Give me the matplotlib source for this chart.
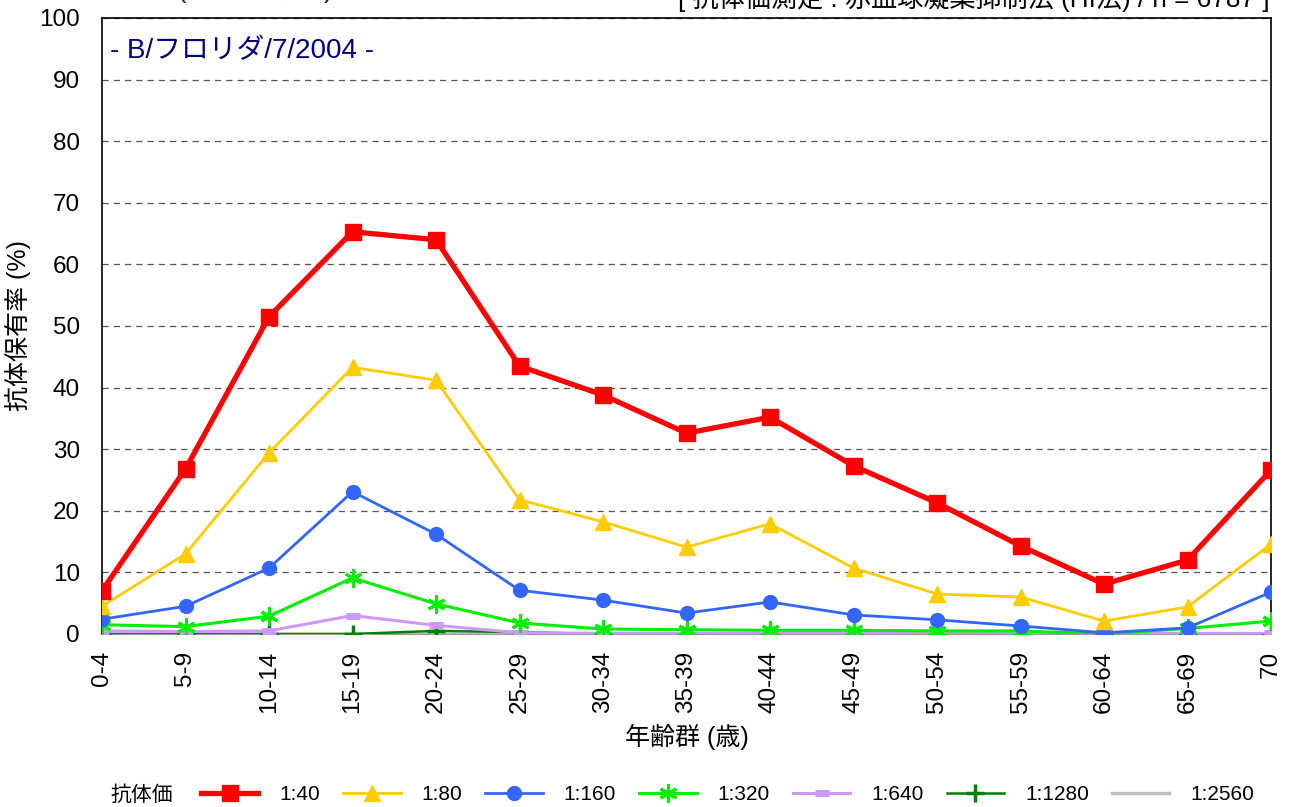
import matplotlib
matplotlib.use('Agg')
import matplotlib.pyplot as plt
import numpy as np

plt.rcParams['font.family'] = ['Liberation Sans', 'Noto Sans CJK JP']

# age groups and antibody titer series (%)
age_groups = ['0-4', '5-9', '10-14', '15-19', '20-24', '25-29', '30-34', '35-39',
              '40-44', '45-49', '50-54', '55-59', '60-64', '65-69', '70']
t40 = [7.0, 26.8, 51.5, 65.3, 64.0, 43.5, 38.8, 32.6, 35.2, 27.3, 21.3, 14.3, 8.1, 12.0, 26.6]
t80 = [4.5, 13.0, 29.4, 43.3, 41.2, 21.8, 18.2, 14.1, 17.9, 10.7, 6.5, 6.0, 2.1, 4.4, 14.6]
t160 = [2.4, 4.5, 10.7, 23.1, 16.2, 7.1, 5.5, 3.4, 5.2, 3.1, 2.3, 1.3, 0.2, 1.0, 6.8]
t320 = [1.5, 1.2, 2.9, 9.1, 4.9, 1.8, 0.8, 0.7, 0.6, 0.6, 0.5, 0.5, 0.0, 0.9, 2.1]
t640 = [0.5, 0.4, 0.5, 3.0, 1.4, 0.2, 0.1, 0.1, 0.1, 0.1, 0.1, 0.1, 0.0, 0.1, 0.1]
t1280 = [0.0, 0.0, 0.0, 0.0, 0.5, 0.3, 0.0, 0.0, 0.0, 0.0, 0.0, 0.0, 0.0, 0.0, 0.0]
t2560 = [0.0] * 15

labels = ['1:40', '1:80', '1:160', '1:320', '1:640', '1:1280', '1:2560']

fig = plt.figure(figsize=(12.9, 8.07), dpi=100)
ax = fig.add_axes([102 / 1290, 1 - 634 / 807, (1271 - 102) / 1290, (634 - 18) / 807])

x = np.arange(len(age_groups))
ax.plot(x, t2560, color='#c0c0c0', lw=2.5, label=labels[6], zorder=2)
ax.plot(x, t1280, color='#008000', lw=1.8, marker='+', ms=13, mew=2.5, label=labels[5], zorder=3)
ax.plot(x, t640, color='#cc99ff', lw=2.2, marker='_', ms=10, mew=5, label=labels[4], zorder=3)
ax.plot(x, t320, color='#00ee00', lw=2.2, marker=(6, 2, 0), ms=13, mew=2.2, label=labels[3], zorder=4)
ax.plot(x, t160, color='#3366ff', lw=2.0, marker='o', ms=10, label=labels[2], zorder=5)
ax.plot(x, t80, color='#ffcc00', lw=2.0, marker='^', ms=11, label=labels[1], zorder=6)
ax.plot(x, t40, color='#ff0000', lw=3.8, marker='s', ms=11, label=labels[0], zorder=7)

ax.set_xlim(0, len(age_groups) - 1)
ax.set_ylim(0, 100)
ax.set_yticks(np.arange(0, 101, 10))
ax.set_xticks(x)
ax.set_xticklabels(age_groups, rotation=90)
ax.tick_params(axis='y', length=0, pad=16, labelsize=17.5)
ax.tick_params(axis='x', length=0, pad=12, labelsize=17.5)
ax.yaxis.grid(True, linestyle=(0, (5, 4)), color='#555555', lw=0.9)
for s in ['top', 'left', 'right']:
    ax.spines[s].set_color('black')
    ax.spines[s].set_linewidth(1.2)
ax.spines['bottom'].set_color('#999999')

ax.set_ylabel('抗体保有率 (%)', fontsize=18)
ax.yaxis.set_label_coords(-0.061, 0.5)
ax.set_xlabel('年齢群 (歳)', fontsize=18, labelpad=8)

ax.text(0.007, 0.947, '- B/フロリダ/7/2004 -', transform=ax.transAxes, color='#000080',
        fontsize=20, va='center', ha='left')

# header text partly cut off at top of image
fig.text(1270 / 1290, 1 - 7 / 807, '[ 抗体価測定 : 赤血球凝集抑制法 (HI法) / n = 6787 ]',
         ha='right', va='baseline', fontsize=18.8)
fig.text(178 / 1290, 1 + 2 / 807, '(2005年 調査)', ha='left', va='baseline',
         fontsize=18, color='#000080')

handles, labs = ax.get_legend_handles_labels()
order = [labs.index(l) for l in labels]
fig.text(110 / 1290, 1 - 795 / 807, '抗体価', fontsize=15, va='center', ha='left')
leg = fig.legend([handles[i] for i in order], [labs[i] for i in order], ncol=7,
                 loc='center left', bbox_to_anchor=(201 / 1290, 1 - 795 / 807),
                 frameon=False, fontsize=15, handlelength=2.75, handletextpad=1.0,
                 columnspacing=1.12, borderaxespad=0, borderpad=0)

fig.savefig('out.png', dpi=100)
